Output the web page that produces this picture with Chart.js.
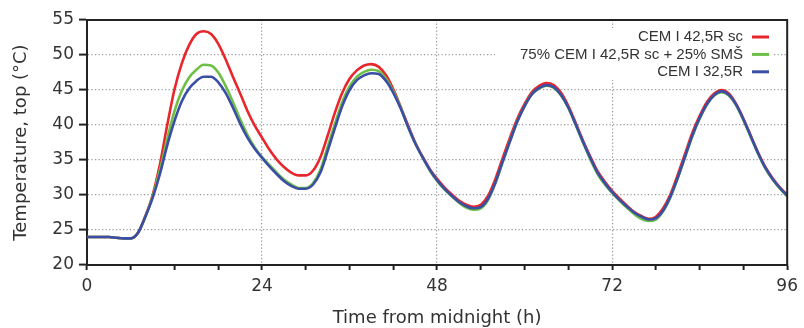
<!DOCTYPE html>
<html>
<head>
<meta charset="utf-8">
<script src="https://cdn.jsdelivr.net/npm/chart.js@4/dist/chart.umd.min.js"></script>
<style>
    html, body { margin: 0; padding: 0; background: #fff; }
    #wrap { width: 804px; height: 328px; }
</style>
</head>
<body>
<div id="wrap"><canvas id="myChart" width="804" height="328"></canvas></div>
<script>
// hours from midnight, one reading per hour
const hours = [];
for (let h = 0; h <= 96; h++) hours.push(h);

const seriesNames = ['CEM I 42,5R sc', '75% CEM I 42,5R sc + 25% SMŠ', 'CEM I 32,5R'];

const cem425 = [
    24.0, 24.0, 24.0, 24.0, 23.9, 23.8, 23.8, 24.6, 27.0, 30.0,
    34.4, 40.0, 45.1, 48.8, 51.4, 53.0, 53.4, 53.0, 51.6, 49.4,
    46.9, 44.5, 42.0, 39.9, 38.2, 36.5, 35.1, 34.0, 33.2, 32.8,
    32.8, 33.5, 35.4, 38.5, 41.8, 44.6, 46.6, 47.8, 48.5, 48.7,
    48.3, 47.1, 45.1, 42.6, 40.0, 37.5, 35.5, 33.7, 32.3, 31.1,
    30.1, 29.2, 28.6, 28.3, 28.6, 29.9, 32.3, 35.3, 38.2, 40.9,
    43.0, 44.7, 45.6, 46.0, 45.7, 44.6, 42.7, 40.3, 37.8, 35.5,
    33.4, 31.9, 30.6, 29.5, 28.5, 27.6, 27.0, 26.6, 26.9, 28.1,
    30.1, 32.9, 35.9, 38.9, 41.3, 43.3, 44.5, 45.0, 44.5, 43.0,
    40.9, 38.5, 36.1, 34.0, 32.4, 31.1, 30.0
];
const cemSms = [
    24.0, 24.0, 24.0, 24.0, 23.9, 23.8, 23.8, 24.6, 26.9, 29.8,
    33.6, 38.0, 42.0, 44.9, 46.8, 47.9, 48.6, 48.5, 47.5, 45.6,
    43.3, 40.8, 38.6, 36.8, 35.4, 34.3, 33.2, 32.2, 31.5, 31.0,
    31.0, 31.7, 33.6, 36.9, 40.2, 43.3, 45.5, 46.9, 47.6, 47.9,
    47.7, 46.6, 44.8, 42.5, 39.8, 37.4, 35.4, 33.5, 32.0, 30.8,
    29.8, 28.9, 28.2, 27.9, 28.1, 29.3, 31.7, 34.7, 37.7, 40.5,
    42.7, 44.4, 45.2, 45.6, 45.3, 44.2, 42.4, 40.0, 37.5, 35.1,
    33.0, 31.5, 30.3, 29.2, 28.2, 27.3, 26.6, 26.3, 26.5, 27.7,
    29.7, 32.4, 35.4, 38.4, 40.9, 42.9, 44.2, 44.7, 44.2, 42.8,
    40.7, 38.3, 35.9, 33.8, 32.2, 30.9, 29.8
];
const cem325 = [
    24.0, 24.0, 24.0, 24.0, 23.9, 23.8, 23.8, 24.6, 26.9, 29.6,
    33.0, 37.1, 40.6, 43.4, 45.2, 46.3, 46.9, 46.9, 46.1, 44.6,
    42.5, 40.2, 38.2, 36.6, 35.3, 34.1, 33.0, 32.0, 31.3, 30.9,
    30.9, 31.5, 33.2, 36.3, 39.6, 42.7, 45.0, 46.4, 47.1, 47.4,
    47.3, 46.3, 44.6, 42.4, 39.8, 37.4, 35.4, 33.6, 32.1, 30.9,
    29.9, 29.0, 28.4, 28.1, 28.3, 29.5, 31.8, 34.8, 37.7, 40.5,
    42.7, 44.4, 45.3, 45.7, 45.4, 44.3, 42.5, 40.1, 37.6, 35.3,
    33.2, 31.7, 30.4, 29.3, 28.4, 27.5, 26.9, 26.5, 26.7, 27.8,
    29.8, 32.5, 35.5, 38.5, 41.0, 43.0, 44.3, 44.8, 44.3, 42.9,
    40.8, 38.4, 36.0, 33.9, 32.3, 31.0, 29.9
];

const yTicks = [20, 25, 30, 35, 40, 45, 50, 55];
const xLabels = [0, 24, 48, 72, 96];

const colors = ['rgb(232,38,43)', 'rgb(109,191,69)', 'rgb(59,78,166)'];
const textColor = '#333';
const frameColor = '#222';
const dotted = '#999';

const toPoints = (vals) => vals.map((v, i) => ({x: hours[i], y: v}));

// white box behind the legend (hides grid dots), legend itself and the top/right frame
const legendBox = {
    id: 'legendBox',
    beforeDatasetsDraw(chart) {
        const {ctx, chartArea} = chart;
        ctx.save();
        ctx.fillStyle = '#fff';
        ctx.fillRect(495, chartArea.top + 8, chartArea.right - 15 - 495, 52);
        ctx.restore();
    },
    afterDraw(chart) {
        const {ctx, chartArea} = chart;
        ctx.save();
        ctx.strokeStyle = frameColor;
        ctx.lineWidth = 2;
        ctx.beginPath();
        ctx.moveTo(chartArea.left, chartArea.top);
        ctx.lineTo(chartArea.right, chartArea.top);
        ctx.lineTo(chartArea.right, chartArea.bottom);
        ctx.stroke();

        ctx.font = '15px "Liberation Sans", Arial, sans-serif';
        ctx.textAlign = 'right';
        ctx.textBaseline = 'middle';
        chart.data.datasets.forEach((ds, i) => {
            const y = chartArea.top + 17 + i * 17.4;
            ctx.fillStyle = textColor;
            ctx.fillText(ds.label, 743, y);
            ctx.strokeStyle = ds.borderColor;
            ctx.lineWidth = 3;
            ctx.beginPath();
            ctx.moveTo(752, y);
            ctx.lineTo(769, y);
            ctx.stroke();
        });
        ctx.restore();
    }
};

const ctx = document.getElementById('myChart').getContext('2d');
const chart = new Chart(ctx, {
    type: 'line',
    data: {
        datasets: [
            {label: seriesNames[0], data: toPoints(cem425), borderColor: colors[0], order: 3},
            {label: seriesNames[1], data: toPoints(cemSms), borderColor: colors[1], order: 2},
            {label: seriesNames[2], data: toPoints(cem325), borderColor: colors[2], order: 1}
        ]
    },
    options: {
        responsive: false,
        animation: false,
        devicePixelRatio: 1,
        layout: {padding: {top: 20, right: 13, left: 0, bottom: 0}},
        elements: {
            point: {radius: 0},
            line: {borderWidth: 2.6, tension: 0.4, cubicInterpolationMode: 'monotone', fill: false}
        },
        plugins: {
            legend: {display: false},
            tooltip: {enabled: false}
        },
        scales: {
            x: {
                type: 'linear',
                min: 0,
                max: 96,
                afterFit: (s) => { s.height = 63; },
                afterBuildTicks: (s) => {
                    s.ticks = [];
                    for (let h = 0; h <= 96; h += 6) s.ticks.push({value: h});
                },
                ticks: {
                    autoSkip: false,
                    maxRotation: 0,
                    padding: 6,
                    color: textColor,
                    font: {family: '"DejaVu Sans"', size: 17},
                    callback: (v) => xLabels.includes(v) ? String(v) : ''
                },
                grid: {
                    color: (c) => (c.tick && c.tick.value % 24 === 0 && c.tick.value > 0 && c.tick.value < 96) ? dotted : 'rgba(0,0,0,0)',
                    lineWidth: 1.2,
                    tickColor: frameColor,
                    tickLength: 5,
                    tickWidth: 2,
                    tickBorderDash: []
                },
                border: {color: frameColor, width: 2, dash: [1.2, 2.3]},
                title: {
                    display: true,
                    text: 'Time from midnight (h)',
                    color: textColor,
                    font: {family: '"DejaVu Sans"', size: 18, lineHeight: 1.1},
                    padding: {top: 0, bottom: 0}
                }
            },
            y: {
                min: 20,
                max: 55,
                afterFit: (s) => { s.width = 87; },
                afterBuildTicks: (s) => { s.ticks = yTicks.map(v => ({value: v})); },
                ticks: {
                    padding: 5,
                    color: textColor,
                    font: {family: '"DejaVu Sans"', size: 17}
                },
                grid: {
                    color: (c) => (c.tick && c.tick.value > 20 && c.tick.value < 55) ? dotted : 'rgba(0,0,0,0)',
                    lineWidth: 1.2,
                    tickColor: frameColor,
                    tickLength: 8,
                    tickWidth: 2,
                    tickBorderDash: []
                },
                border: {color: frameColor, width: 2, dash: [1.2, 2.3]},
                title: {
                    display: true,
                    text: 'Temperature, top (°C)',
                    color: textColor,
                    font: {family: '"DejaVu Sans"', size: 18, lineHeight: 1.2},
                    padding: {top: 11, bottom: 0}
                }
            }
        }
    },
    plugins: [legendBox]
});
</script>
</body>
</html>
